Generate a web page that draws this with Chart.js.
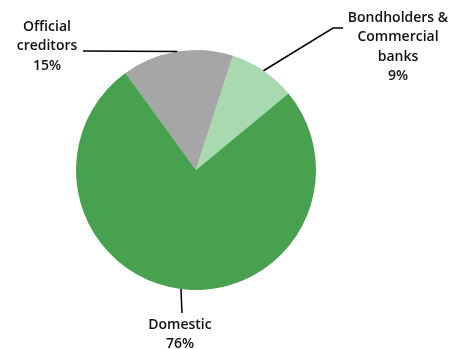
<!DOCTYPE html>
<html>
<head>
<meta charset="utf-8">
<script src="https://cdn.jsdelivr.net/npm/chart.js@4.4.1/dist/chart.umd.min.js"></script>
<style>
  html, body { margin: 0; padding: 0; background: #ffffff; }
  #wrap { position: relative; width: 456px; height: 349px; }
</style>
</head>
<body>
<div id="wrap"><canvas id="pie" width="456" height="349"></canvas></div>
<script>
// Debt holders, share of total (%)
const categories = ["Official creditors", "Bondholders & Commercial banks", "Domestic"];
const labelLines = [["Official", "creditors"], ["Bondholders &", "Commercial", "banks"], ["Domestic"]];
const shares = [15, 9, 76];
const sliceColors = ["#a6a6a6", "#a9d9ae", "#48a14f"];

// Callout layout per slice: elbow/end of leader line and label anchor
const callouts = [
  { elbow: null, end: [83, 51], text: [47, 27] },
  { elbow: [333, 28], end: [343, 28], text: [398, 18] },
  { elbow: null, end: [182, 313], text: [180, 325] }
];

const calloutPlugin = {
  id: "callouts",
  afterDatasetsDraw(chart) {
    const ctx = chart.ctx;
    const arcs = chart.getDatasetMeta(0).data;
    ctx.save();
    arcs.forEach((arc, i) => {
      const mid = (arc.startAngle + arc.endAngle) / 2;
      const sx = arc.x + Math.cos(mid) * arc.outerRadius;
      const sy = arc.y + Math.sin(mid) * arc.outerRadius;
      const c = callouts[i];
      ctx.strokeStyle = "#000000";
      ctx.lineWidth = 1.5;
      ctx.beginPath();
      ctx.moveTo(sx, sy);
      if (c.elbow) ctx.lineTo(c.elbow[0], c.elbow[1]);
      ctx.lineTo(c.end[0], c.end[1]);
      ctx.stroke();

      const lines = labelLines[i].concat([shares[i] + "%"]);
      ctx.fillStyle = "#111111";
      ctx.font = "600 14px 'Open Sans', sans-serif";
      ctx.textAlign = "center";
      ctx.textBaseline = "middle";
      lines.forEach((t, k) => ctx.fillText(t, c.text[0], c.text[1] + k * 19.5));
    });
    ctx.restore();
  }
};

new Chart(document.getElementById("pie").getContext("2d"), {
  type: "pie",
  data: {
    labels: categories,
    datasets: [{
      data: shares,
      backgroundColor: sliceColors,
      borderWidth: 0
    }]
  },
  options: {
    responsive: false,
    animation: false,
    rotation: -36,
    layout: { padding: { left: 76, right: 140, top: 50, bottom: 59 } },
    plugins: {
      legend: { display: false },
      tooltip: { enabled: false }
    }
  },
  plugins: [calloutPlugin]
});
</script>
</body>
</html>
